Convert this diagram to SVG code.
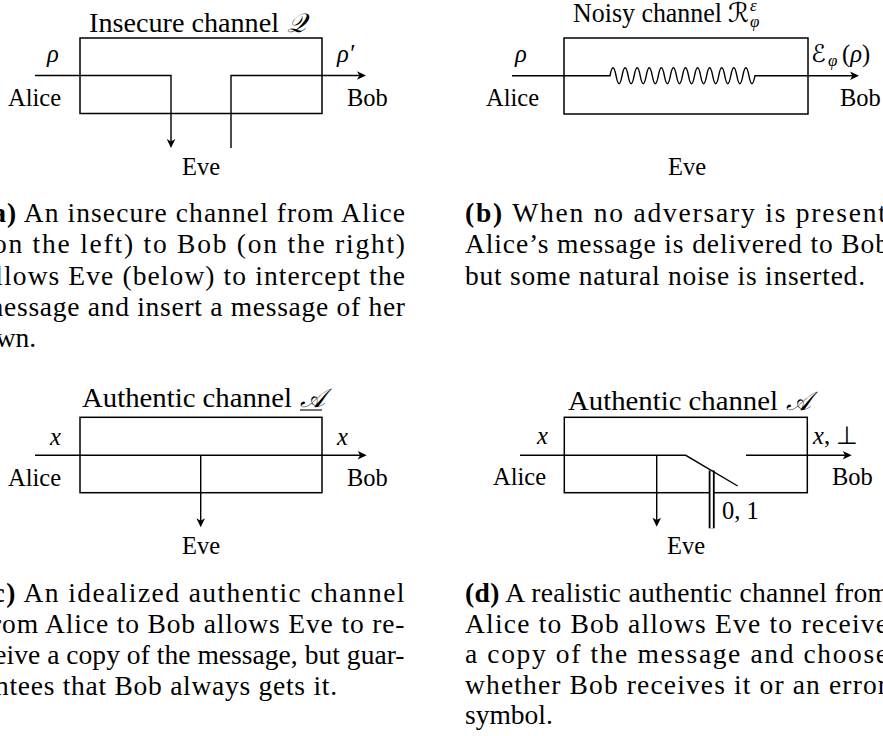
<svg xmlns="http://www.w3.org/2000/svg" width="883" height="736" viewBox="0 0 883 736">
<style>
.t{font-family:"Liberation Serif","Times New Roman",serif;fill:#000}
.lbl{font-size:24.5px}
.ttl{font-size:26.5px}
.cap{font-size:27.5px}
.m{font-style:italic}
.sm{font-size:17px}
.cal{font-family:"DejaVu Serif","DejaVu Sans","Noto Sans",serif;font-style:italic}
.ln{fill:none;stroke:#000;stroke-width:1.4}
.box{fill:none;stroke:#000;stroke-width:1.5}
</style>
<defs>
<marker id="ah" markerUnits="userSpaceOnUse" markerWidth="14" markerHeight="12" viewBox="-6 -6 14 12" refX="0" refY="0" orient="auto"><path d="M4,0 L-5,-4.3 L-2.6,0 L-5,4.3 Z" fill="#000"/></marker>
</defs>
<rect width="883" height="736" fill="#fff"/>

<!-- Panel (a) -->
<g id="a-channel">
<rect class="box" x="80" y="38" width="242" height="75.5"/>
<text class="t ttl" x="89" y="32" textLength="190" lengthAdjust="spacingAndGlyphs">Insecure channel</text>
<text class="t ttl cal" x="287" y="32">𝒬</text>
</g>
<g id="a-alice"><text class="t lbl" x="8" y="106">Alice</text><text class="t lbl m" x="47" y="62">ρ</text></g>
<g id="a-bob"><text class="t lbl" x="347" y="106">Bob</text><text class="t lbl m" x="337" y="62">ρ′</text></g>
<g id="a-eve"><text class="t lbl" x="182" y="175">Eve</text></g>

<!-- Panel (b) -->
<g id="b-channel">
<rect class="box" x="564" y="38" width="244" height="76"/>
<text class="t ttl" x="573" y="21.5" textLength="149" lengthAdjust="spacingAndGlyphs">Noisy channel</text>
<text class="t ttl cal" x="728" y="21.5">ℛ</text>
<text class="t sm m" x="750" y="11">ε</text>
<text class="t sm m" x="750" y="27">φ</text>
</g>
<g id="b-alice"><text class="t lbl" x="486" y="106">Alice</text><text class="t lbl m" x="515" y="62">ρ</text></g>
<g id="b-bob"><text class="t lbl" x="840" y="106">Bob</text>
<text class="t lbl cal" x="811" y="62">ℰ</text><text class="t sm m" x="828" y="66">φ</text><text class="t lbl" x="842" y="62">(<tspan font-style="italic">ρ</tspan>)</text></g>
<g id="b-eve"><text class="t lbl" x="668" y="175">Eve</text></g>

<!-- Panel (c) -->
<g id="c-channel">
<rect class="box" x="80" y="417.3" width="242" height="75.4"/>
<text class="t ttl" x="82" y="406.5" textLength="210" lengthAdjust="spacingAndGlyphs">Authentic channel</text>
<text class="t ttl cal" x="300" y="406.5">𝒜</text>
<line x1="300" y1="410" x2="322" y2="410" stroke="#000" stroke-width="1.1"/>
</g>
<g id="c-alice"><text class="t lbl" x="8" y="486">Alice</text><text class="t lbl m" x="50" y="445">x</text></g>
<g id="c-bob"><text class="t lbl" x="347" y="486">Bob</text><text class="t lbl m" x="337" y="445">x</text></g>
<g id="c-eve"><text class="t lbl" x="182" y="554">Eve</text></g>

<!-- Panel (d) -->
<g id="d-channel">
<rect class="box" x="564.3" y="417.3" width="243" height="75.4"/>
<text class="t ttl" x="568" y="409.5" textLength="210" lengthAdjust="spacingAndGlyphs">Authentic channel</text>
<text class="t ttl cal" x="786" y="409.5">𝒜</text>
</g>
<g id="d-alice"><text class="t lbl" x="493" y="485">Alice</text><text class="t lbl m" x="537" y="444">x</text></g>
<g id="d-bob"><text class="t lbl" x="832" y="485">Bob</text><text class="t lbl" x="813" y="444"><tspan font-style="italic">x</tspan>, ⊥</text></g>
<g id="d-eve"><text class="t lbl" x="667" y="554">Eve</text><text class="t lbl" x="722" y="519">0, 1</text></g>

<!-- Connectors -->
<g id="connectors">
<path class="ln" d="M35,75.5 H171 V144" marker-end="url(#ah)"/>
<path class="ln" d="M231,148 V75.5 H362" marker-end="url(#ah)"/>
<path class="ln" d="M512,75.7 H610 q3.02,-16 6.04,0 t6.04,0 t6.04,0 t6.04,0 t6.04,0 t6.04,0 t6.04,0 t6.04,0 t6.04,0 t6.04,0 t6.04,0 t6.04,0 t6.04,0 t6.04,0 t6.04,0 t6.04,0 t6.04,0 t6.04,0 t6.04,0 t6.04,0 t6.04,0 t6.04,0 t6.04,0 t6.04,0 H855" marker-end="url(#ah)"/>
<path class="ln" d="M35,455.3 H362.7" marker-end="url(#ah)"/>
<path class="ln" d="M200.7,455.3 V523.3" marker-end="url(#ah)"/>
<path d="M711.7,470.5 V528.3" stroke="#000" stroke-width="6" fill="none"/>
<path d="M711.7,470.5 V528.3" stroke="#fff" stroke-width="2.4" fill="none"/>
<path class="ln" d="M520,455.3 H685.7 L737.7,486"/>
<path class="ln" d="M746,455.3 H847.7" marker-end="url(#ah)"/>
<path class="ln" d="M656.7,455.3 V522.7" marker-end="url(#ah)"/>
</g>

<!-- Captions -->
<g id="caption-a">
<text class="t cap" x="-18" y="222" textLength="423" lengthAdjust="spacing"><tspan font-weight="bold">(a)</tspan> An insecure channel from Alice</text>
<text class="t cap" x="-18" y="253" textLength="423" lengthAdjust="spacing">(on the left) to Bob (on the right)</text>
<text class="t cap" x="-18" y="284.5" textLength="423" lengthAdjust="spacing">allows Eve (below) to intercept the</text>
<text class="t cap" x="-18" y="316" textLength="423" lengthAdjust="spacing">message and insert a message of her</text>
<text class="t cap" x="-18" y="347">own.</text>
</g>
<g id="caption-b">
<text class="t cap" x="465" y="222" textLength="421" lengthAdjust="spacing"><tspan font-weight="bold">(b)</tspan> When no adversary is present</text>
<text class="t cap" x="465" y="253" textLength="424" lengthAdjust="spacing">Alice’s message is delivered to Bob</text>
<text class="t cap" x="465" y="284.5" textLength="400" lengthAdjust="spacing">but some natural noise is inserted.</text>
</g>
<g id="caption-c">
<text class="t cap" x="-18" y="602" textLength="422.5" lengthAdjust="spacing"><tspan font-weight="bold">(c)</tspan> An idealized authentic channel</text>
<text class="t cap" x="-18" y="633" textLength="422.5" lengthAdjust="spacing">from Alice to Bob allows Eve to re-</text>
<text class="t cap" x="-18" y="664" textLength="422.5" lengthAdjust="spacing">ceive a copy of the message, but guar-</text>
<text class="t cap" x="-18" y="695" textLength="355" lengthAdjust="spacing">antees that Bob always gets it.</text>
</g>
<g id="caption-d">
<text class="t cap" x="465" y="602" textLength="424" lengthAdjust="spacing"><tspan font-weight="bold">(d)</tspan> A realistic authentic channel from</text>
<text class="t cap" x="465" y="632.5" textLength="423" lengthAdjust="spacing">Alice to Bob allows Eve to receive</text>
<text class="t cap" x="465" y="663" textLength="423" lengthAdjust="spacing">a copy of the message and choose</text>
<text class="t cap" x="465" y="693.5" textLength="422" lengthAdjust="spacing">whether Bob receives it or an error</text>
<text class="t cap" x="465" y="724">symbol.</text>
</g>
</svg>
